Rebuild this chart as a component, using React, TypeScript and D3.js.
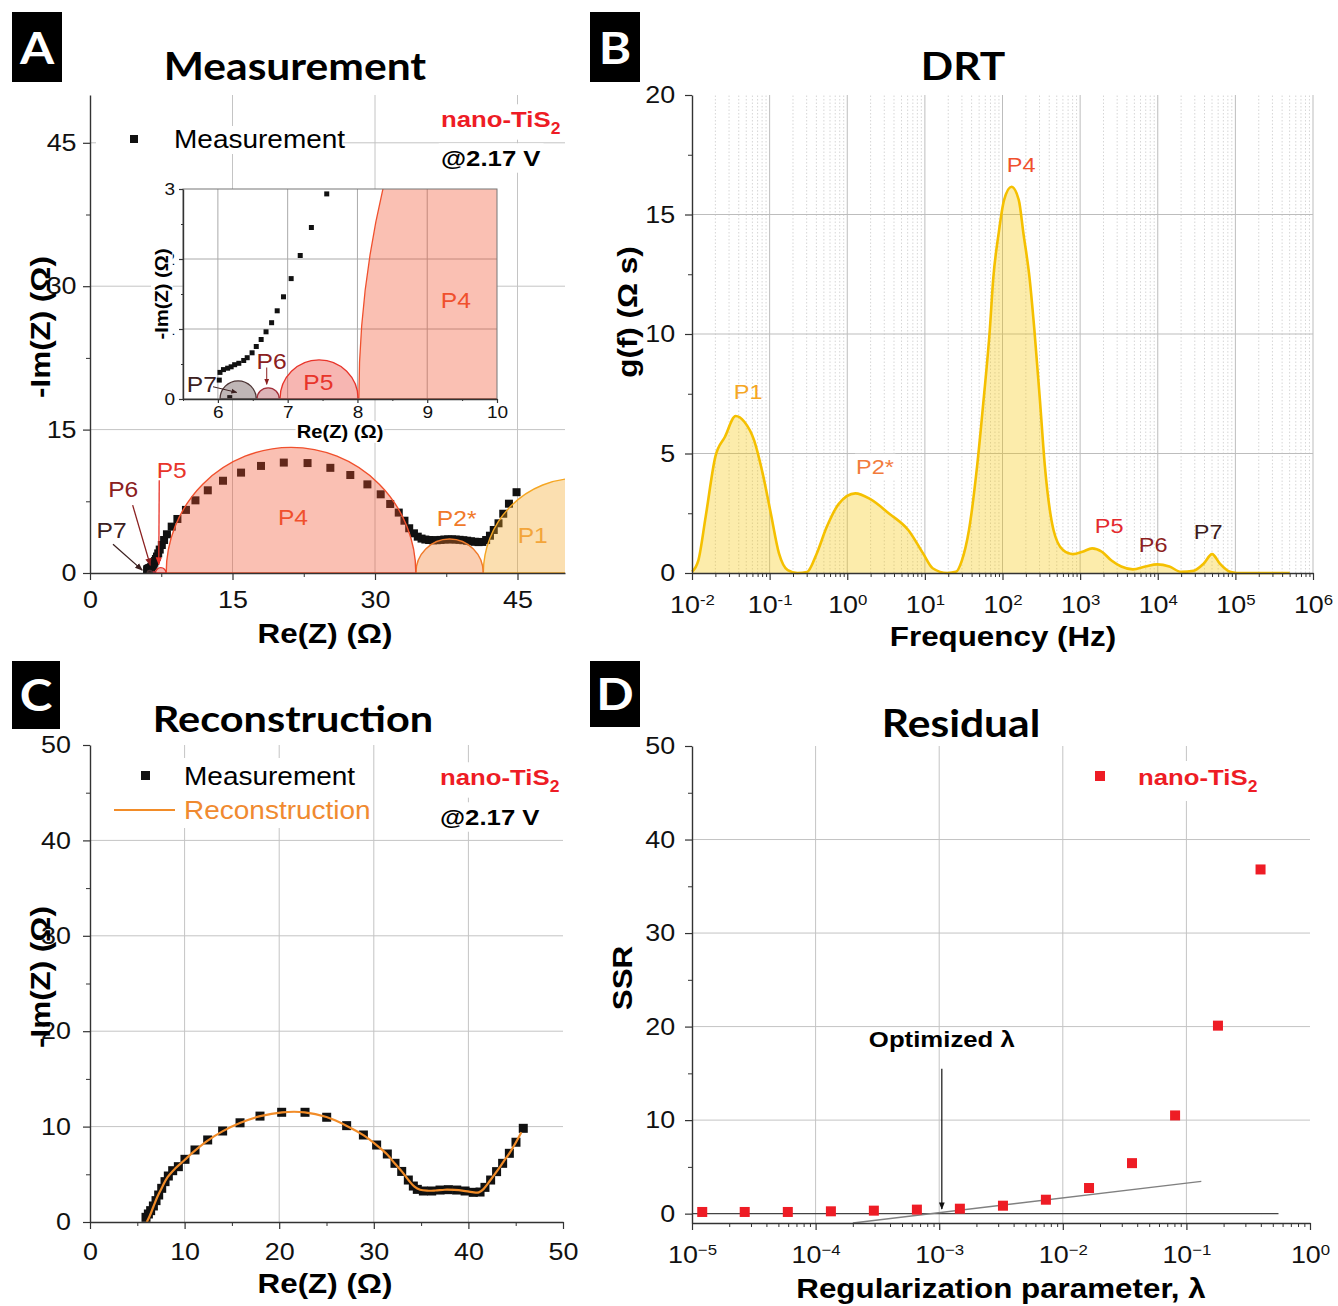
import React, { useRef, useEffect } from "react";
import * as d3 from "d3";

// ---------- Panel A: measured Nyquist data, [Re(Z), -Im(Z)] in ohm
const measA: [number, number][] = [
  [6.17, 0.02], [6.02, 0.27], [6.03, 0.38], [6.08, 0.42], [6.14, 0.44], [6.19, 0.46], [6.24, 0.49],
  [6.3, 0.51], [6.37, 0.55], [6.42, 0.59], [6.49, 0.66], [6.55, 0.75], [6.62, 0.85], [6.69, 0.96],
  [6.77, 1.09], [6.85, 1.26], [6.94, 1.46], [7.05, 1.72], [7.18, 2.05], [7.34, 2.45], [7.56, 2.93],
  [7.8, 3.45], [8.1, 4.05], [8.6, 4.85], [9.2, 5.65], [10.1, 6.6], [11.1, 7.6], [12.4, 8.65],
  [14.0, 9.65], [15.9, 10.5], [18.0, 11.2], [20.4, 11.55], [22.9, 11.5], [25.3, 11.0], [27.4, 10.25],
  [29.2, 9.27], [30.6, 8.23], [31.6, 7.22], [32.5, 6.32], [33.1, 5.47], [33.6, 4.68], [34.1, 4.15],
  [34.5, 3.8], [34.9, 3.6], [35.3, 3.5], [35.7, 3.45], [36.1, 3.42], [36.5, 3.43], [36.9, 3.46],
  [37.3, 3.5], [37.7, 3.52], [38.1, 3.52], [38.5, 3.5], [38.9, 3.47], [39.3, 3.43], [39.7, 3.38],
  [40.1, 3.32], [40.5, 3.27], [40.9, 3.23], [41.3, 3.25], [41.7, 3.45], [42.1, 3.9], [42.5, 4.5],
  [43.0, 5.2], [43.5, 6.2], [44.1, 7.25], [44.9, 8.45],
];

// semicircle peaks: start / end on the Re(Z) axis (ohm)
const peakNames = ["P1", "P2*", "P4", "P5", "P6", "P7"];
const peakFrom = [41.4, 34.3, 8.02, 6.89, 6.56, 6.03];
const peakTo = [61.2, 41.4, 34.3, 8.01, 6.88, 6.55];

// ---------- Panel B: distribution of relaxation times
const drtFreq = [
  0.01, 0.0121, 0.015, 0.02, 0.0266, 0.0365, 0.0472, 0.063, 0.0813, 0.1035, 0.132, 0.171, 0.228,
  0.303, 0.405, 0.54, 0.773, 1.27, 1.96, 3.48, 6.17, 9.48, 12.6, 19.5, 25.1, 29.8, 37, 47.2, 56.9,
  68.7, 75.9, 89.1, 104.7, 130.6, 162.2, 186.2, 223.9, 257, 304, 350.8, 454, 602.6, 807, 1072, 1429,
  1905, 2535, 3388, 4786, 6918, 9886, 14125, 19953, 28840, 38905, 50119, 63096, 85114, 104713, 501187,
];
const drtG = [
  0.05, 0.54, 2.36, 4.87, 5.7, 6.57, 6.33, 5.56, 4.17, 2.5, 0.82, 0.12, 0, 0.04, 0.82, 1.9, 2.88,
  3.33, 3.1, 2.48, 1.78, 0.82, 0.2, 0, 0.05, 0.5, 1.8, 4.5, 7.2, 10.2, 12.3, 14.2, 15.6, 16.16, 15.6,
  14.2, 12.3, 10.2, 7.2, 4.5, 1.8, 0.96, 0.79, 0.89, 1.03, 0.89, 0.52, 0.27, 0.15, 0.27, 0.36, 0.27,
  0.05, 0.09, 0.39, 0.79, 0.39, 0.05, 0, 0,
];
const drtPeakNames = ["P1", "P2*", "P4", "P5", "P6", "P7"];
const drtPeakFreq = [0.053, 2.28, 174, 2366, 8710, 44670];
const drtPeakG = [7.3, 4.16, 16.76, 1.69, 0.86, 1.44];

// ---------- Panel C: measurement vs reconstruction
const measC: [number, number][] = [
  [5.92, 0.49], [6.17, 0.84], [6.41, 1.19], [6.7, 1.68], [6.98, 2.24], [7.26, 2.83], [7.58, 3.53],
  [7.93, 4.23], [8.28, 4.82], [8.74, 5.38], [9.34, 5.8], [10.04, 6.57], [11.1, 7.55], [12.44, 8.6],
  [14.02, 9.54], [15.86, 10.4], [17.97, 11.1], [20.26, 11.5], [22.73, 11.5], [25.02, 10.98],
  [27.13, 10.1], [28.9, 9.12], [30.3, 8.07], [31.43, 7.13], [32.24, 6.15], [32.95, 5.3], [33.65, 4.4],
  [34.18, 3.77], [34.6, 3.42], [35.24, 3.25], [36.12, 3.25], [37.0, 3.35], [37.88, 3.39], [38.77, 3.35],
  [39.65, 3.25], [40.52, 3.11], [41.23, 3.14], [41.75, 3.63], [42.35, 4.4], [42.98, 5.28],
  [43.62, 6.15], [44.33, 7.2], [45.03, 8.36], [45.8, 9.82],
];
const reconC: [number, number][] = [
  [6.0, 0.0], [6.3, 0.6], [6.7, 1.6], [7.1, 2.6], [7.6, 3.6], [8.2, 4.7], [9.0, 5.6], [10.0, 6.5],
  [11.0, 7.4], [12.4, 8.5], [14.0, 9.5], [15.9, 10.4], [18.0, 11.1], [20.3, 11.5], [22.7, 11.5],
  [25.0, 11.0], [27.1, 10.1], [28.9, 9.1], [30.3, 8.05], [31.4, 7.1], [32.2, 6.15], [33.0, 5.25],
  [33.7, 4.35], [34.3, 3.7], [34.9, 3.38], [35.6, 3.28], [36.5, 3.3], [37.5, 3.38], [38.5, 3.36],
  [39.5, 3.27], [40.4, 3.13], [41.1, 3.1], [41.6, 3.45], [42.3, 4.35], [43.0, 5.3], [43.7, 6.3],
  [44.4, 7.3], [45.0, 8.3], [45.6, 9.4],
];

// ---------- Panel D: residual vs regularization parameter
const lambdas = [
  1.21e-5, 2.67e-5, 5.96e-5, 1.33e-4, 2.96e-4, 6.6e-4, 1.47e-3, 3.28e-3, 7.3e-3, 1.63e-2, 3.63e-2,
  8.1e-2, 1.8e-1, 3.98e-1,
];
const ssr = [0.18, 0.18, 0.18, 0.25, 0.32, 0.43, 0.53, 0.85, 1.49, 2.74, 5.4, 10.5, 20.1, 36.8];
const zeroLine: [number, number][] = [[1e-5, 0], [0.556, 0]];
const tangentLine: [number, number][] = [[2.0e-4, -1], [0.132, 3.45]];
const optLambda = 1.05e-3;

// ---------- styles
const SX = 1.12; // glyphs in the figure are a little wider than Arial
const SANS = "'Liberation Sans', Arial, sans-serif";
const TITLE = "Lato, 'Open Sans', sans-serif";
const RED = "#ee1c25";
const peakColor: Record<string, string> = {
  P1: "#f5a623", "P2*": "#f07a2a", P4: "#f0502d", P5: "#e8342a", P6: "#a3303a", P7: "#4d3535",
};
const drtLabelColor: Record<string, string> = {
  P1: "#f5a623", "P2*": "#f27b3c", P4: "#f0502d", P5: "#e42a2e", P6: "#8c1f22", P7: "#3d1c1c",
};

const App = () => {
  const ref = useRef<SVGSVGElement>(null);

  useEffect(() => {
    const svg = d3.select(ref.current);
    svg.selectAll("*").remove();
    const defs = svg.append("defs");

    const clip = (id: string, x: any, y: any) => {
      const [x0, x1] = x.range();
      const [y0, y1] = y.range();
      defs.append("clipPath").attr("id", id).append("rect")
        .attr("x", x0).attr("y", Math.min(y0, y1))
        .attr("width", x1 - x0).attr("height", Math.abs(y0 - y1));
    };
    const marker = (id: string, color: string) => {
      defs.append("marker").attr("id", id).attr("viewBox", "0 0 10 10")
        .attr("refX", 9).attr("refY", 5).attr("markerWidth", 6).attr("markerHeight", 6)
        .attr("orient", "auto-start-reverse")
        .append("path").attr("d", "M0,1 L10,5 L0,9 Z").attr("fill", color);
    };

    // text stretched along its own writing direction
    const text = (g: any, x: number, y: number, s: string, o: any = {}) =>
      g.append("text")
        .attr("transform", `translate(${x},${y})` + (o.rotate ? ` rotate(${o.rotate})` : "") + ` scale(${SX},1)`)
        .attr("font-family", o.family ?? SANS)
        .attr("font-size", o.size ?? 22)
        .attr("font-weight", o.weight ?? "normal")
        .attr("fill", o.fill ?? "#000")
        .attr("text-anchor", o.anchor ?? "start")
        .text(s);

    const whiteBg = (t: any, pad = 2) => {
      const node = t.node();
      const b = node.getBBox();
      d3.select(node.parentNode).insert("rect", () => node)
        .attr("transform", t.attr("transform"))
        .attr("x", b.x - pad).attr("y", b.y - pad)
        .attr("width", b.width + 2 * pad).attr("height", b.height + 2 * pad)
        .attr("fill", "#fff");
    };

    const tis2 = (g: any, x: number, y: number, size: number) => {
      const t = text(g, x, y, "nano-TiS", { size, weight: "bold", fill: RED });
      t.append("tspan").attr("font-size", size * 0.68).attr("dy", size * 0.3).text("2");
      return t;
    };

    const panelTag = (x: number, y: number, w: number, h: number, s: string) => {
      svg.append("rect").attr("x", x).attr("y", y).attr("width", w).attr("height", h).attr("fill", "#000");
      text(svg, x + w / 2, y + h * 0.74, s, { size: 44, weight: "bold", fill: "#fff", anchor: "middle", family: TITLE });
    };

    const grid = (g: any, x: any, y: any, xs: number[], ys: number[], color = "#c4c4c4", dash: string | null = null) => {
      const [x0, x1] = x.range();
      const [y0, y1] = y.range();
      g.append("g").selectAll("line").data(xs).join("line")
        .attr("x1", (d: number) => x(d)).attr("x2", (d: number) => x(d))
        .attr("y1", y0).attr("y2", y1)
        .attr("stroke", color).attr("stroke-width", 1).attr("stroke-dasharray", dash);
      g.append("g").selectAll("line").data(ys).join("line")
        .attr("x1", x0).attr("x2", x1)
        .attr("y1", (d: number) => y(d)).attr("y2", (d: number) => y(d))
        .attr("stroke", color).attr("stroke-width", 1);
    };

    const styleAxis = (sel: any, size: number) => {
      sel.select(".domain").attr("stroke", "#333").attr("stroke-width", 1.4);
      sel.selectAll(".tick line").attr("stroke", "#333").attr("stroke-width", 1.2);
      sel.selectAll(".tick text").attr("font-family", SANS).attr("font-size", size)
        .attr("fill", "#111").attr("transform", `scale(${SX},1)`);
    };

    const axes = (g: any, x: any, y: any, o: any) => {
      const xAt = o.xAt ?? y.range()[0];
      const yAt = x.range()[0];
      const size = o.size ?? 22;
      const major = o.majorLen ?? 7;
      const minor = o.minorLen ?? 4;
      g.append("g").attr("transform", `translate(0,${xAt})`)
        .call(d3.axisBottom(x).tickValues(o.xMinor).tickSize(minor).tickSizeOuter(0).tickFormat(() => ""))
        .call((s: any) => s.select(".domain").remove())
        .selectAll("line").attr("stroke", "#333");
      g.append("g").attr("transform", `translate(${yAt},0)`)
        .call(d3.axisLeft(y).tickValues(o.yMinor).tickSize(minor).tickSizeOuter(0).tickFormat(() => ""))
        .call((s: any) => s.select(".domain").remove())
        .selectAll("line").attr("stroke", "#333");
      const xa = g.append("g").attr("transform", `translate(0,${xAt})`)
        .call(d3.axisBottom(x).tickValues(o.xMajor).tickSize(major).tickSizeOuter(0)
          .tickPadding(o.xPad ?? 4).tickFormat(o.xFmt ?? ((d: number) => String(d))));
      styleAxis(xa, size);
      const ya = g.append("g").attr("transform", `translate(${yAt},0)`)
        .call(d3.axisLeft(y).tickValues(o.yMajor).tickSize(major).tickSizeOuter(0)
          .tickPadding(o.yPad ?? 4).tickFormat((d: number) => String(d)));
      styleAxis(ya, size);
      if (o.sup) {
        xa.selectAll(".tick text").each(function (this: any, d: any) {
          const e = Math.round(Math.log10(d));
          const t = d3.select(this);
          t.text("10");
          t.append("tspan").attr("dy", "-0.55em").attr("font-size", 15).text(String(e).replace("-", o.sup));
        });
      }
    };

    const semi = (x: any, y: any, a: number, b: number) => {
      const rx = (x(b) - x(a)) / 2;
      const ry = y(0) - y((b - a) / 2);
      return `M${x(a)},${y(0)} A${rx},${ry} 0 0 1 ${x(b)},${y(0)} Z`;
    };

    const arrowLine = (g: any, x: any, y: any, from: [number, number], to: [number, number], color: string, id: string, w = 1.3) => {
      marker(id, color);
      g.append("line").attr("x1", x(from[0])).attr("y1", y(from[1]))
        .attr("x2", x(to[0])).attr("y2", y(to[1]))
        .attr("stroke", color).attr("stroke-width", w).attr("marker-end", `url(#${id})`);
    };

    // ================= Panel A =================
    const gA = svg.append("g");
    const xA = d3.scaleLinear().domain([0, 50]).range([90, 565]);
    const yA = d3.scaleLinear().domain([0, 50]).range([573, 95]);
    clip("clipA", xA, yA);
    panelTag(12, 12, 50, 70, "A");
    text(gA, 295, 80, "Measurement", { size: 38, weight: "bold", anchor: "middle", family: TITLE });
    grid(gA, xA, yA, [15, 30, 45], [15, 30, 45]);

    gA.append("g").attr("clip-path", "url(#clipA)")
      .selectAll("rect").data(measA).join("rect")
      .attr("x", (d) => xA(d[0]) - 4).attr("y", (d) => yA(d[1]) - 4)
      .attr("width", 8).attr("height", 8).attr("fill", "#111");

    const peaksA = gA.append("g").attr("clip-path", "url(#clipA)");
    peakNames.forEach((n, i) => {
      peaksA.append("path").attr("d", semi(xA, yA, peakFrom[i], peakTo[i]))
        .attr("fill", peakColor[n]).attr("fill-opacity", 0.36)
        .attr("stroke", peakColor[n]).attr("stroke-width", 1.4);
    });

    axes(gA, xA, yA, {
      xMajor: [0, 15, 30, 45], xMinor: [7.5, 22.5, 37.5], yMajor: [0, 15, 30, 45], yMinor: [7.5, 22.5, 37.5],
      xPad: 11, yPad: 5, size: 24,
    });

    text(gA, 293, yA(5.0), "P4", { size: 22, fill: peakColor.P4, anchor: "middle" });
    text(gA, xA(38.6), yA(4.9), "P2*", { size: 22, fill: peakColor["P2*"], anchor: "middle" });
    text(gA, xA(46.6), yA(3.1), "P1", { size: 22, fill: "#f3a53a", anchor: "middle" });
    text(gA, xA(2.28), yA(3.65), "P7", { size: 22, fill: "#3b2020", anchor: "middle" });
    text(gA, xA(3.5), yA(8.0), "P6", { size: 22, fill: "#8b2020", anchor: "middle" });
    text(gA, xA(8.6), yA(9.9), "P5", { size: 22, fill: "#e8342a", anchor: "middle" });
    arrowLine(gA, xA, yA, [2.42, 3.0], [5.5, 0.3], "#3b2020", "arP7");
    arrowLine(gA, xA, yA, [4.49, 7.1], [6.35, 0.8], "#8b2020", "arP6");
    arrowLine(gA, xA, yA, [7.29, 9.7], [7.24, 0.9], "#e8342a", "arP5");

    text(gA, 325, 643, "Re(Z) (Ω)", { size: 28, weight: "bold", anchor: "middle" });
    text(gA, 50, 327, "-Im(Z) (Ω)", { size: 28, weight: "bold", anchor: "middle", rotate: -90 });

    // legend
    gA.append("rect").attr("x", 96).attr("y", 126).attr("width", 247).attr("height", 28).attr("fill", "#fff");
    gA.append("rect").attr("x", 130).attr("y", 135).attr("width", 8).attr("height", 8).attr("fill", "#111");
    text(gA, 174, 148, "Measurement", { size: 25 });
    whiteBg(tis2(gA, 441, 127, 23));
    whiteBg(text(gA, 441, 166, "@2.17 V", { size: 23, weight: "bold" }));

    // inset
    const gI = gA.append("g");
    const xI = d3.scaleLinear().domain([5.5, 10]).range([183, 497]);
    const yI = d3.scaleLinear().domain([0, 3]).range([399, 189]);
    clip("clipI", xI, yI);
    gI.append("rect").attr("x", 183).attr("y", 189).attr("width", 314).attr("height", 210).attr("fill", "#fff");
    grid(gI, xI, yI, [6, 7, 8, 9], [1, 2], "#aaa");
    gI.append("g").attr("clip-path", "url(#clipI)")
      .selectAll("rect").data(measA).join("rect")
      .attr("x", (d) => xI(d[0]) - 2.5).attr("y", (d) => yI(d[1]) - 2.5)
      .attr("width", 5).attr("height", 5).attr("fill", "#111");
    const peaksI = gI.append("g").attr("clip-path", "url(#clipI)");
    peakNames.forEach((n, i) => {
      peaksI.append("path").attr("d", semi(xI, yI, peakFrom[i], peakTo[i]))
        .attr("fill", peakColor[n]).attr("fill-opacity", 0.36)
        .attr("stroke", peakColor[n]).attr("stroke-width", 1.3);
    });
    gI.append("rect").attr("x", 183).attr("y", 189).attr("width", 314).attr("height", 210)
      .attr("fill", "none").attr("stroke", "#777").attr("stroke-width", 1);
    axes(gI, xI, yI, {
      xMajor: [6, 7, 8, 9, 10], xMinor: [5.5, 6.5, 7.5, 8.5, 9.5], yMajor: [0, 1, 2, 3], yMinor: [0.5, 1.5, 2.5],
      xPad: 3, yPad: 3, size: 17, majorLen: 4, minorLen: 2,
    });
    text(gI, xI(9.41), yI(1.3), "P4", { size: 22, fill: peakColor.P4, anchor: "middle" });
    text(gI, xI(7.44), yI(0.13), "P5", { size: 22, fill: "#e8342a", anchor: "middle" });
    text(gI, xI(6.77), yI(0.43), "P6", { size: 22, fill: "#8b2020", anchor: "middle" });
    text(gI, xI(5.77), yI(0.1), "P7", { size: 22, fill: "#3b2020", anchor: "middle" });
    arrowLine(gI, xI, yI, [6.7, 0.45], [6.7, 0.21], "#8b2020", "arI6", 1);
    arrowLine(gI, xI, yI, [5.93, 0.175], [6.27, 0.094], "#3b2020", "arI7", 1);
    whiteBg(text(gI, 340, 438, "Re(Z) (Ω)", { size: 18, weight: "bold", anchor: "middle" }), 1);
    whiteBg(text(gI, 168, 294, "-Im(Z) (Ω)", { size: 18, weight: "bold", anchor: "middle", rotate: -90 }), 1);

    // ================= Panel B =================
    const gB = svg.append("g");
    const xB = d3.scaleLog().domain([0.01, 1e6]).range([692, 1313]);
    const yB = d3.scaleLinear().domain([0, 20]).range([573, 95]);
    panelTag(590, 12, 50, 70, "B");
    text(gB, 963, 80, "DRT", { size: 38, weight: "bold", anchor: "middle", family: TITLE });
    const decadesB = d3.range(-2, 6).map((e) => Math.pow(10, e));
    const minorB = decadesB.flatMap((p) => d3.range(2, 10).map((k) => k * p));
    grid(gB, xB, yB, minorB, [], "#d6d6d6", "1.5,2");
    grid(gB, xB, yB, decadesB.slice(1).concat([1e6]), [5, 10, 15], "#bdbdbd");

    const drt = drtFreq.map((f, i) => [f, drtG[i]] as [number, number]);
    gB.append("path").datum(drt)
      .attr("d", d3.area<[number, number]>().x((d) => xB(d[0])).y0(yB(0)).y1((d) => yB(d[1])).curve(d3.curveMonotoneX))
      .attr("fill", "#f5c400").attr("fill-opacity", 0.33);
    gB.append("path").datum(drt)
      .attr("d", d3.line<[number, number]>().x((d) => xB(d[0])).y((d) => yB(d[1])).curve(d3.curveMonotoneX))
      .attr("fill", "none").attr("stroke", "#f5c000").attr("stroke-width", 2.6);

    axes(gB, xB, yB, {
      xMajor: decadesB.concat([1e6]), xMinor: minorB, yMajor: [0, 5, 10, 15, 20], yMinor: [2.5, 7.5, 12.5, 17.5],
      xPad: 16, yPad: 8, size: 24, sup: "-",
    });
    drtPeakNames.forEach((n, i) => {
      const t = text(gB, xB(drtPeakFreq[i]), yB(drtPeakG[i]), n, { size: 21, fill: drtLabelColor[n], anchor: "middle" });
      if (n === "P2*") whiteBg(t, 1);
    });
    text(gB, 1003, 646, "Frequency (Hz)", { size: 28, weight: "bold", anchor: "middle" });
    text(gB, 637, 312, "g(f) (Ω s)", { size: 28, weight: "bold", anchor: "middle", rotate: -90 });

    // ================= Panel C =================
    const gC = svg.append("g");
    const xC = d3.scaleLinear().domain([0, 50]).range([90, 563]);
    const yC = d3.scaleLinear().domain([0, 50]).range([1222, 745]);
    panelTag(12, 661, 48, 68, "C");
    text(gC, 293, 732, "Reconstruction", { size: 37, weight: "bold", anchor: "middle", family: TITLE });
    grid(gC, xC, yC, [10, 20, 30, 40], [10, 20, 30, 40]);
    gC.append("g").selectAll("rect").data(measC).join("rect")
      .attr("x", (d) => xC(d[0]) - 4.5).attr("y", (d) => yC(d[1]) - 4.5)
      .attr("width", 9).attr("height", 9).attr("fill", "#111");
    gC.append("path").datum(reconC)
      .attr("d", d3.line<[number, number]>().x((d) => xC(d[0])).y((d) => yC(d[1])).curve(d3.curveCatmullRom))
      .attr("fill", "none").attr("stroke", "#f28c28").attr("stroke-width", 2.2);
    axes(gC, xC, yC, {
      xMajor: [0, 10, 20, 30, 40, 50], xMinor: [5, 15, 25, 35, 45], yMajor: [0, 10, 20, 30, 40, 50], yMinor: [5, 15, 25, 35, 45],
      xPad: 14, yPad: 10, size: 24,
    });
    gC.append("rect").attr("x", 108).attr("y", 758).attr("width", 262).attr("height", 70).attr("fill", "#fff");
    gC.append("rect").attr("x", 141).attr("y", 771).attr("width", 9).attr("height", 9).attr("fill", "#111");
    text(gC, 184, 785, "Measurement", { size: 25 });
    gC.append("line").attr("x1", 114).attr("x2", 175).attr("y1", 810).attr("y2", 810)
      .attr("stroke", "#f28c28").attr("stroke-width", 2.2);
    text(gC, 184, 819, "Reconstruction", { size: 25, fill: "#f08a30" });
    whiteBg(tis2(gC, 440, 785, 23));
    whiteBg(text(gC, 440, 825, "@2.17 V", { size: 23, weight: "bold" }));
    text(gC, 325, 1293, "Re(Z) (Ω)", { size: 28, weight: "bold", anchor: "middle" });
    text(gC, 50, 977, "-Im(Z) (Ω)", { size: 28, weight: "bold", anchor: "middle", rotate: -90 });

    // ================= Panel D =================
    const gD = svg.append("g");
    const xD = d3.scaleLog().domain([1e-5, 1]).range([692, 1310]);
    const yD = d3.scaleLinear().domain([-1, 50]).range([1223, 746]);
    panelTag(590, 661, 50, 66, "D");
    text(gD, 961, 737, "Residual", { size: 38, weight: "bold", anchor: "middle", family: TITLE });
    const decadesD = d3.range(-5, 1).map((e) => Math.pow(10, e));
    const minorD = decadesD.slice(0, -1).flatMap((p) => d3.range(2, 10).map((k) => k * p));
    grid(gD, xD, yD, decadesD.slice(1, -1), [10, 20, 30, 40]);
    const lineD = d3.line<[number, number]>().x((d) => xD(d[0])).y((d) => yD(d[1]));
    gD.append("path").datum(zeroLine).attr("d", lineD).attr("stroke", "#444").attr("stroke-width", 1.3);
    gD.append("path").datum(tangentLine).attr("d", lineD).attr("stroke", "#808080").attr("stroke-width", 1.3);
    gD.append("g").selectAll("rect").data(lambdas).join("rect")
      .attr("x", (d) => xD(d) - 5).attr("y", (d, i) => yD(ssr[i]) - 5)
      .attr("width", 10).attr("height", 10).attr("fill", RED);
    axes(gD, xD, yD, {
      xMajor: decadesD, xMinor: minorD, yMajor: [0, 10, 20, 30, 40, 50], yMinor: [5, 15, 25, 35, 45],
      xPad: 16, yPad: 8, size: 24, sup: "−", xAt: yD(-1),
    });
    arrowLine(gD, xD, yD, [optLambda, 15.5], [optLambda, 0.5], "#111", "arOpt", 1.2);
    text(gD, xD(optLambda), yD(17.8), "Optimized λ", { size: 23, weight: "bold", anchor: "middle" });
    gD.append("rect").attr("x", 1088).attr("y", 761).attr("width", 182).attr("height", 40).attr("fill", "#fff");
    gD.append("rect").attr("x", 1095).attr("y", 771).attr("width", 10).attr("height", 10).attr("fill", RED);
    tis2(gD, 1138, 785, 23);
    text(gD, 1001, 1298, "Regularization parameter, λ", { size: 28, weight: "bold", anchor: "middle" });
    text(gD, 632, 978, "SSR", { size: 28, weight: "bold", anchor: "middle", rotate: -90 });
  }, []);

  return (
    <svg
      ref={ref}
      width={1338}
      height={1306}
      style={{ position: "absolute", left: 0, top: 0, background: "#fff" }}
    />
  );
};

export default App;
